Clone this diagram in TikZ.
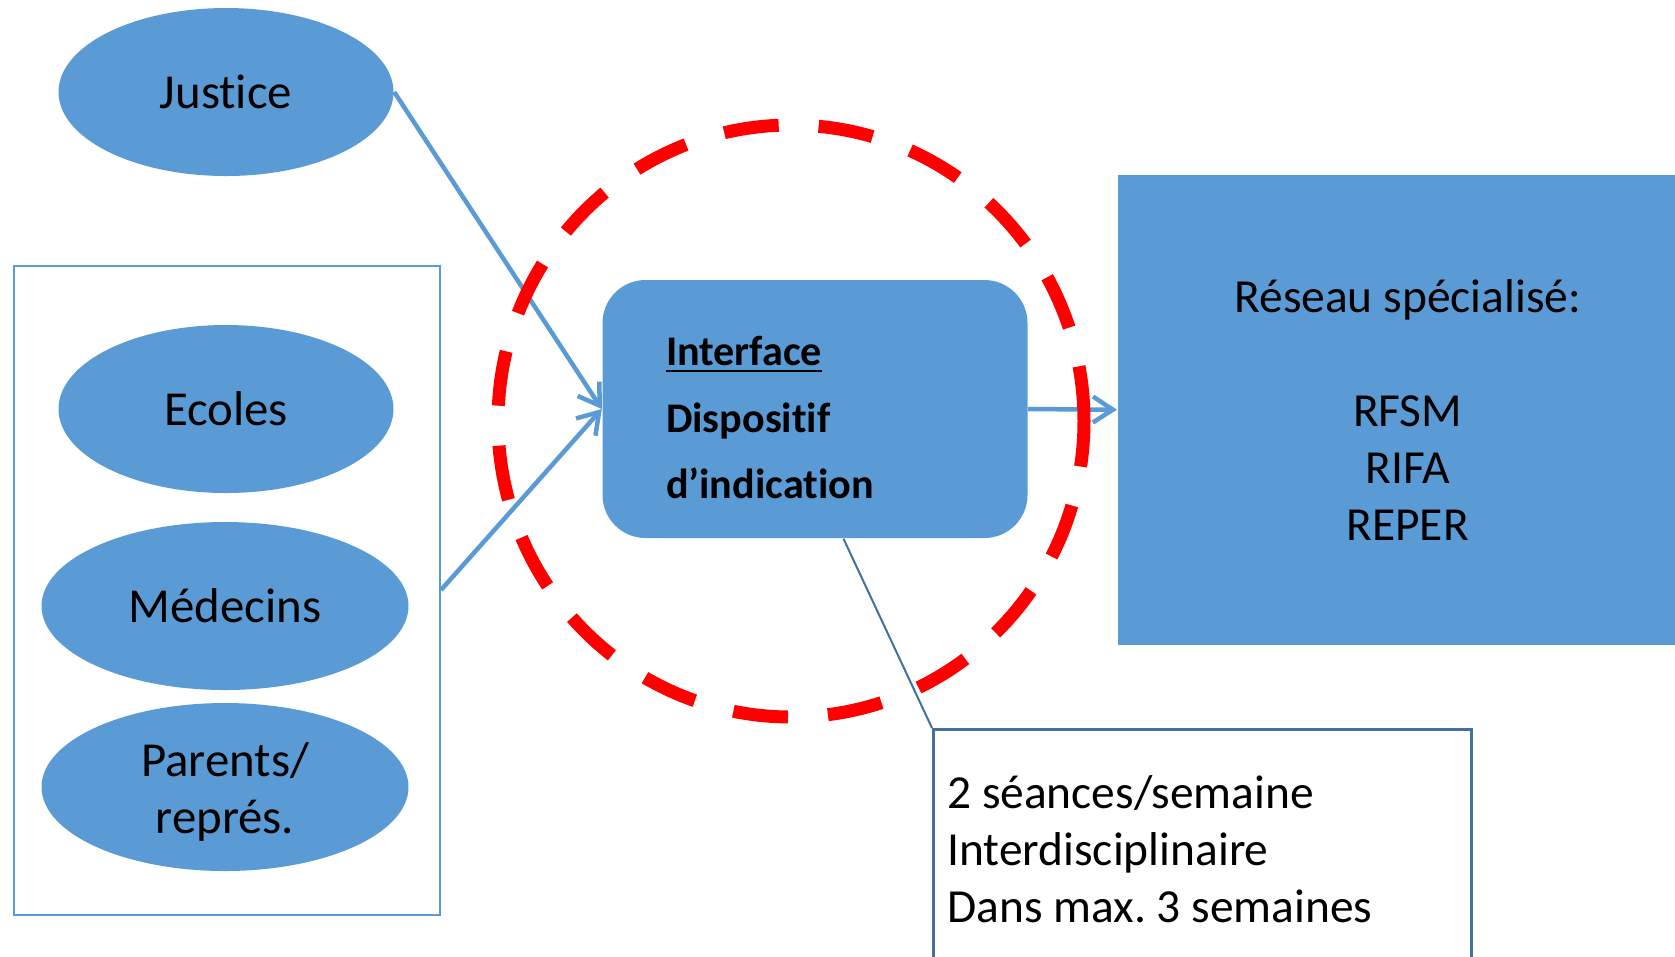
\documentclass[tikz,border=0pt]{standalone}
\usepackage{fontspec}
\setmainfont{Carlito}[Ligatures=NoCommon]
\usetikzlibrary{shapes.geometric,arrows.meta}
\definecolor{officeblue}{HTML}{5B9BD5}
\definecolor{edgeblue}{HTML}{41719C}
\definecolor{ringred}{HTML}{FF0000}
\frenchspacing

\begin{document}
\begin{tikzpicture}[x=0.1mm,y=-0.1mm,
  actor/.style={ellipse,fill=officeblue,inner sep=0pt,minimum height=16.8mm,align=center,
    font=\fontsize{13.9}{16.4}\selectfont},
  groupbox/.style={draw=officeblue,line width=0.2mm,minimum width=42.6mm,minimum height=64.9mm},
  hub/.style={rounded corners=4.3mm,fill=officeblue,minimum width=42.5mm,minimum height=25.8mm,
    inner xsep=6.35mm,inner ysep=0pt,text width=29.8mm,align=flush left,
    font=\fontsize{12}{18.9}\selectfont\bfseries},
  network/.style={fill=officeblue,minimum width=58mm,minimum height=47mm,text width=54mm,
    align=flush center,font=\fontsize{13.5}{16.2}\selectfont},
  infobox/.style={draw=edgeblue,line width=0.25mm,inner xsep=1.4mm,inner ysep=4.6mm,
    text width=51mm,align=flush left,font=\fontsize{13.5}{16.3}\selectfont},
  flow/.style={officeblue,line width=0.45mm,-{Straight Barb[length=2mm,width=2.6mm]}},
  ring/.style={ellipse,draw=ringred,line width=1.3mm,dash pattern=on 5.5mm off 4mm,
    inner sep=0pt,minimum width=58.6mm,minimum height=59.2mm}]
\useasboundingbox (0,0) rectangle (1675,956);
\clip (0,0) rectangle (1675,956);

\node[actor,minimum width=33.5mm] (justice) at (226,92) {Justice};
\node[groupbox] (senders) at (227,590) {};
\node[actor,minimum width=33.5mm] (ecoles) at (226,409) {Ecoles};
\node[actor,minimum width=36.7mm] (medecins) at (225,606) {Médecins};
\node[actor,minimum width=36.7mm] (parents) at (225,787) {\rule{0pt}{4.4mm}Parents/\\représ.};

\node[hub] (iface) at (815,409) {\rule{0pt}{4.7mm}\underline{Interface}\\Dispositif\\d’indication};
\node[network,anchor=north west] (reseau) at (1117,174) {Réseau spécialisé:\\[16.2pt]RFSM\\RIFA\\REPER};
\node[infobox,anchor=north west] (seances) at (932,728) {2 séances/semaine\\Interdisciplinaire\\Dans max. 3 semaines};

\draw[flow] (justice.east) -- (iface.west);
\draw[flow] (senders.east) -- (iface.west);
\draw[flow] (iface.east) -- (reseau.west);
\draw[edgeblue,line width=0.2mm] ([xshift=2.85mm]iface.south) -- (seances.north west);

\node[ring] (dispositif) at (791,421) {};
\end{tikzpicture}
\end{document}
